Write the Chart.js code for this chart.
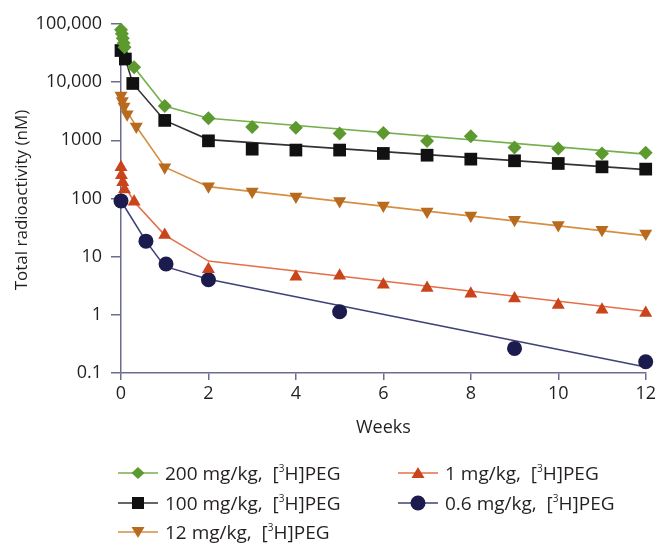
<!DOCTYPE html>
<html>
<head>
<meta charset="utf-8">
<script src="https://cdn.jsdelivr.net/npm/chart.js@4.4.1/dist/chart.umd.min.js"></script>
<style>
  html, body { margin: 0; padding: 0; background: #fff; }
  #wrap { position: relative; width: 659px; height: 545px; }
  #chart { position: absolute; left: 0; top: 0; }
  .legText { position: absolute; font-family: "Open Sans", sans-serif; font-size: 19px; color: #231f20; white-space: pre; line-height: 24px; }
  .legText sup { font-size: 10px; vertical-align: 8px; line-height: 0; }
  .legIcon { position: absolute; }
</style>
</head>
<body>
<div id="wrap">
  <canvas id="chart" width="659" height="545"></canvas>
  <div id="legend"></div>
</div>
<script>
// data (weeks, nM)
const weeks200 = [0, 0.02, 0.04, 0.06, 0.08, 0.3, 1, 2, 3, 4, 5, 6, 7, 8, 9, 10, 11, 12];
const conc200 = [80000, 68000, 57000, 47000, 40000, 18000, 3900, 2400, 1700, 1640, 1310, 1340, 970, 1180, 755, 725, 595, 610];
const fitWeeks200 = [0, 0.08, 0.3, 1, 2, 12];
const fit200 = [80000, 40000, 18000, 3900, 2400, 580];

const weeks100 = [0, 0.1, 0.27, 1, 2, 3, 4, 5, 6, 7, 8, 9, 10, 11, 12];
const conc100 = [35000, 25000, 9500, 2200, 980, 705, 680, 680, 595, 555, 475, 445, 400, 350, 320];
const fitWeeks100 = [0, 0.1, 0.27, 1, 2, 12];
const fit100 = [35000, 25000, 9500, 2200, 1030, 314];

const weeks12 = [0, 0.03, 0.07, 0.14, 0.35, 1, 2, 3, 4, 5, 6, 7, 8, 9, 10, 11, 12];
const conc12 = [5900, 4750, 3800, 2800, 1730, 345, 163, 132, 108, 91, 76, 60, 51, 43, 35, 29, 25];
const fitWeeks12 = [0, 0.07, 0.35, 1, 2, 12];
const fit12 = [5900, 3800, 1730, 345, 160, 23];

const weeks1 = [0, 0.01, 0.04, 0.08, 0.3, 1, 2, 4, 5, 6, 7, 8, 9, 10, 11, 12];
const conc1 = [345, 250, 190, 143, 88, 23.5, 6.1, 4.5, 4.7, 3.3, 2.9, 2.3, 1.9, 1.48, 1.22, 1.07];
const fitWeeks1 = [0, 0.04, 0.3, 1, 2, 12];
const fit1 = [345, 190, 88, 23.5, 8.4, 1.15];

const weeks06 = [0, 0.57, 1.03, 2, 5, 9, 12];
const conc06 = [91, 18.5, 7.5, 4.0, 1.13, 0.265, 0.156];
const fitWeeks06 = [0, 0.57, 1, 2, 12];
const fit06 = [91, 18.5, 6.8, 4.1, 0.127];

const seriesLabels = ["200 mg/kg,  [3H]PEG", "100 mg/kg,  [3H]PEG", "12 mg/kg,  [3H]PEG", "1 mg/kg,  [3H]PEG", "0.6 mg/kg,  [3H]PEG"];
const yTickValues = [0.1, 1, 10, 100, 1000, 10000, 100000];
const yTickLabels = ["0.1", "1", "10", "100", "1000", "10,000", "100,000"];
const xTitle = "Weeks";
const yTitle = "Total radioactivity (nM)";

// styles
const styles = [
  { marker: "#5c9a2f", line: "#76b04e", shape: "rectRot", rot: 0, r: 7 },
  { marker: "#111111", line: "#333333", shape: "rect", rot: 0, r: 9 },
  { marker: "#b86a1e", line: "#d68f42", shape: "triangle", rot: 180, r: 7.5 },
  { marker: "#c9441b", line: "#e2714a", shape: "triangle", rot: 0, r: 7.5 },
  { marker: "#1c1b4d", line: "#3f4277", shape: "circle", rot: 0, r: 7.5 }
];
const series = [
  [weeks200, conc200, fitWeeks200, fit200],
  [weeks100, conc100, fitWeeks100, fit100],
  [weeks12, conc12, fitWeeks12, fit12],
  [weeks1, conc1, fitWeeks1, fit1],
  [weeks06, conc06, fitWeeks06, fit06]
];

const axisColor = "#6b6c8f";
const textColor = "#231f20";
const font = "'Open Sans', sans-serif";

const datasets = [];
series.forEach((s, i) => {
  const st = styles[i];
  datasets.push({
    label: seriesLabels[i],
    data: s[0].map((w, j) => ({ x: w, y: s[1][j] })),
    showLine: false,
    pointStyle: st.shape,
    pointRotation: st.rot,
    pointRadius: st.r,
    pointBackgroundColor: st.marker,
    pointBorderColor: st.marker,
    pointBorderWidth: 0,
    clip: false,
    order: 0
  });
  datasets.push({
    label: seriesLabels[i] + " fit",
    data: s[2].map((w, j) => ({ x: w, y: s[3][j] })),
    borderColor: st.line,
    borderWidth: 1.6,
    pointRadius: 0,
    tension: 0,
    fill: false,
    order: 1
  });
});

// rotated y title, drawn at a fixed spot left of the axis
const yTitlePlugin = {
  id: "yTitle",
  afterDraw(chart) {
    const ctx = chart.ctx;
    ctx.save();
    ctx.translate(22, 200);
    ctx.rotate(-Math.PI / 2);
    ctx.font = "17px " + font;
    ctx.fillStyle = textColor;
    ctx.textAlign = "center";
    ctx.textBaseline = "middle";
    ctx.fillText(yTitle, 0, 0);
    ctx.restore();
  }
};

new Chart(document.getElementById("chart"), {
  type: "line",
  data: { datasets: datasets },
  plugins: [yTitlePlugin],
  options: {
    responsive: false,
    animation: false,
    layout: { padding: { left: 0, top: 24, right: 9, bottom: 102 } },
    plugins: { legend: { display: false }, tooltip: { enabled: false } },
    scales: {
      x: {
        type: "linear",
        min: 0,
        max: 12,
        ticks: { stepSize: 2, color: textColor, font: { family: font, size: 18 }, padding: 3 },
        grid: { drawOnChartArea: false, drawTicks: true, tickLength: 7, color: axisColor, lineWidth: 1.5 },
        border: { display: true, color: axisColor, width: 1.5 },
        title: { display: true, text: xTitle, color: textColor, font: { family: font, size: 18 }, padding: { top: 0, bottom: 4 } },
        afterFit: s => { s.height = 70; }
      },
      y: {
        type: "logarithmic",
        min: 0.1,
        max: 100000,
        afterBuildTicks: s => { s.ticks = yTickValues.map(v => ({ value: v })); },
        ticks: {
          color: textColor,
          font: { family: font, size: 18 },
          padding: 9,
          callback: (v, idx) => yTickLabels[idx]
        },
        grid: { drawOnChartArea: false, drawTicks: true, tickLength: 10, color: axisColor, lineWidth: 1.5 },
        border: { display: true, color: axisColor, width: 1.5 },
        afterFit: s => { s.width = 121; }
      }
    }
  }
});

// legend in two columns, column-major like the figure
const legendSlots = [[118, 473], [118, 503], [118, 532], [398, 473], [398, 503]];
const legend = document.getElementById("legend");
function iconSvg(st) {
  const c = st.marker;
  let m = "";
  if (st.shape === "rectRot") m = `<polygon points="20,2 26.5,8 20,14 13.5,8" fill="${c}"/>`;
  else if (st.shape === "rect") m = `<rect x="14" y="2" width="12" height="12" fill="${c}"/>`;
  else if (st.shape === "circle") m = `<circle cx="20" cy="8" r="7.5" fill="${c}"/>`;
  else if (st.rot === 180) m = `<polygon points="13.5,3 26.5,3 20,14" fill="${c}"/>`;
  else m = `<polygon points="20,2 26.5,13 13.5,13" fill="${c}"/>`;
  return `<svg width="40" height="16" viewBox="0 0 40 16"><line x1="0" y1="8" x2="40" y2="8" stroke="${st.line}" stroke-width="1.6"/>${m}</svg>`;
}
seriesLabels.forEach((lab, i) => {
  const [lx, ly] = legendSlots[i];
  const ic = document.createElement("div");
  ic.className = "legIcon";
  ic.style.left = lx + "px";
  ic.style.top = (ly - 8) + "px";
  ic.innerHTML = iconSvg(styles[i]);
  legend.appendChild(ic);
  const tx = document.createElement("div");
  tx.className = "legText";
  tx.style.left = (lx + 47) + "px";
  tx.style.top = (ly - 12) + "px";
  tx.innerHTML = lab.replace("[3H]", "[<sup>3</sup>H]");
  legend.appendChild(tx);
});
</script>
</body>
</html>
